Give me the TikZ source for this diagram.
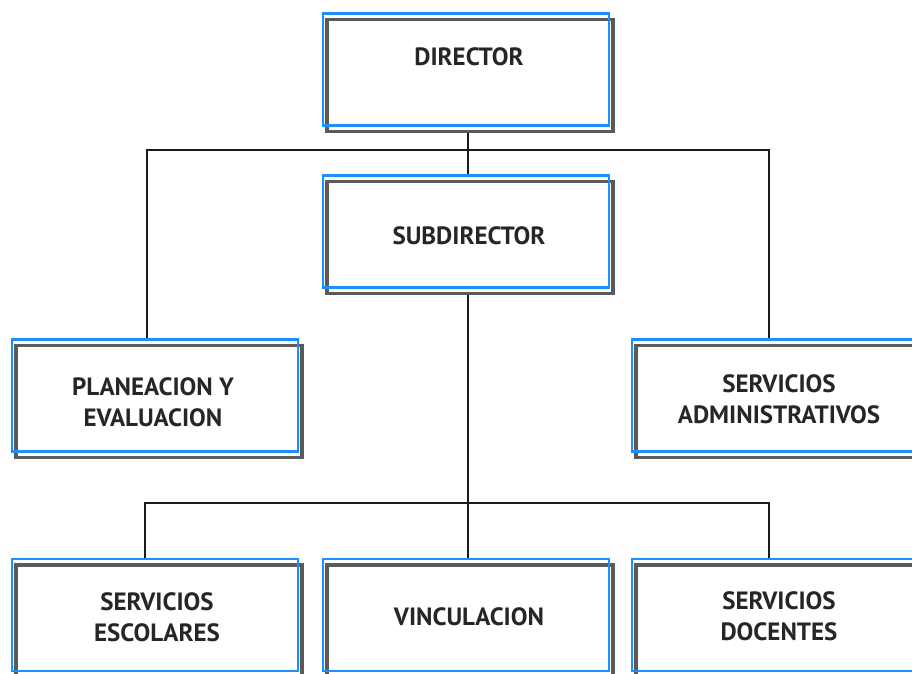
\documentclass[tikz,border=0pt]{standalone}
\usepackage{fontspec}
\setmainfont{PT Sans}
\usetikzlibrary{shadows}
\definecolor{frameblue}{HTML}{1E8FFF}
\definecolor{shadegray}{HTML}{5A5A5A}
\definecolor{linkcol}{HTML}{1A1A1A}
\begin{document}
\begin{tikzpicture}[x=1pt,y=-1pt,
  orgbox/.style={draw=frameblue, line width=2.6pt, minimum width=286pt, minimum height=112pt, inner sep=0pt,
    general shadow={shadow xshift=4pt, shadow yshift=-6pt, draw=shadegray, line width=3.4pt, fill=none}},
  lbl/.style={font=\bfseries\fontsize{25}{31}\selectfont, align=center, text=black!85, inner sep=0pt},
  link/.style={draw=linkcol, line width=2.4pt}]
\useasboundingbox (0,0) rectangle (912,673);
% boxes
\node[orgbox] (dir) at (466,69.5) {};
\node[orgbox] (sub) at (466,231.5) {};
\node[orgbox] (plan) at (155,395.5) {};
\node[orgbox] (adm) at (775,395.5) {};
\node[orgbox] (esc) at (155,615) {};
\node[orgbox] (vin) at (466,615) {};
\node[orgbox] (doc) at (775,615) {};
% connectors
\coordinate (j1) at (468,150);
\coordinate (j2) at (468,503);
\draw[link] ([xshift=2pt,yshift=-6pt]dir.south) -- ([xshift=2pt]sub.north);
\draw[link] ([xshift=-8pt]plan.north) |- (j1) -| ([xshift=-6pt]adm.north);
\draw[link] ([xshift=2pt,yshift=-6pt]sub.south) -- ([xshift=2pt]vin.north);
\draw[link] ([xshift=-10pt]esc.north) |- (j2) -| ([xshift=-6pt]doc.north);
% labels
\node[lbl] at (469,57) {DIRECTOR};
\node[lbl] at (469,236) {SUBDIRECTOR};
\node[lbl] at (153,402.5) {PLANEACION Y\\EVALUACION};
\node[lbl] at (779,399) {SERVICIOS\\ADMINISTRATIVOS};
\node[lbl] at (157,617.5) {SERVICIOS\\ESCOLARES};
\node[lbl] at (469,617) {VINCULACION};
\node[lbl] at (779,616.5) {SERVICIOS\\DOCENTES};
\end{tikzpicture}
\end{document}
